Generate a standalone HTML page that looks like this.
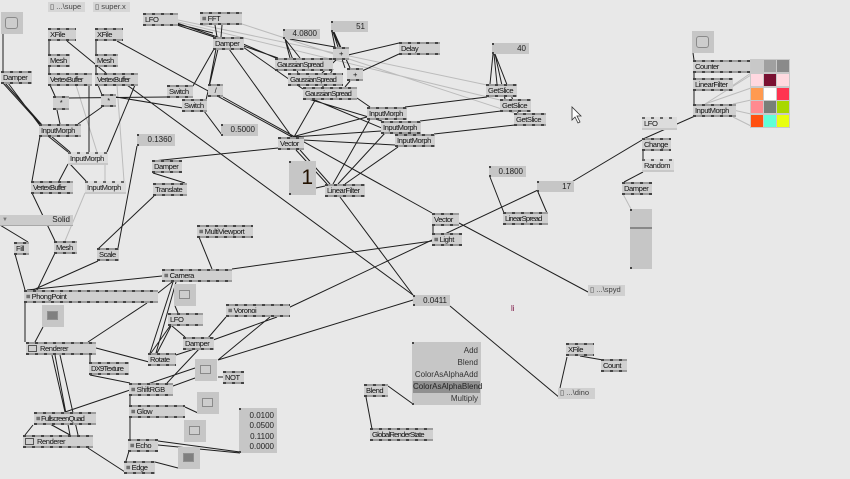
<!DOCTYPE html>
<html><head><meta charset="utf-8">
<style>
html,body{margin:0;padding:0}
body{width:850px;height:479px;background:#e8e8e8;overflow:hidden;position:relative;font-family:"Liberation Sans",sans-serif}
svg.w{position:absolute;left:0;top:0}
.n{position:absolute;box-sizing:border-box;height:13px;padding:2px 0 0 2px;font-size:7.6px;line-height:9px;letter-spacing:-0.45px;color:#111;white-space:nowrap;overflow:hidden;
background-color:#d0d0d0;
background-image:repeating-linear-gradient(90deg,#444 0 3px,#9c9c9c 3px 9px),repeating-linear-gradient(90deg,#444 0 3px,#9c9c9c 3px 9px);
background-size:100% 2px,100% 2px;background-position:0 0,0 100%;background-repeat:no-repeat}
.n.s{letter-spacing:-0.75px}
.n.l{background-color:#dcdcdc;background-image:repeating-linear-gradient(90deg,#666 0 3px,#dcdcdc 3px 9px),linear-gradient(#c8c8c8,#c8c8c8)}
.n.c{text-align:center;padding-left:0}
.v{position:absolute;box-sizing:border-box;height:11px;background-color:#c6c6c6;font-size:8px;line-height:11px;text-align:right;padding-right:3px;color:#222;white-space:nowrap;
background-image:linear-gradient(#444,#444),linear-gradient(#444,#444);background-size:2px 2px,2px 2px;background-position:0 0,0 100%;background-repeat:no-repeat}
.f{position:absolute;box-sizing:border-box;height:10px;background:#d6d6d6;font-size:7.6px;line-height:10px;color:#444;padding-left:2px;white-space:nowrap;overflow:hidden}
.t{position:absolute;width:22px;height:22px;background:#c6c6c6}
.t i{position:absolute;left:5px;top:6px;width:11px;height:9px;border:1px solid #8a8a8a;background:#cdcdcd;box-sizing:border-box}
.t.r i{border-radius:3px;left:4px;top:5px;width:13px;height:12px}
.t.d i{background:#808080;border-color:#909090}
.ic{display:inline-block;width:7px;height:5px;border:1px solid #555;margin-right:3px;vertical-align:-1px}
.cg{position:absolute;left:750px;top:59px;width:40px;height:69px;background:#c9c9c9}
.cg b{position:absolute;width:12px;height:12px}
</style></head><body>
<svg class="w" width="850" height="479" viewBox="0 0 850 479">
<g stroke="#bcbcbc" stroke-width="1" fill="none">
<path d="M178 20L487 85M178 22L500 100M242 24L514 113M76 85L97 152M117 85L124 181M105 164L105 181M85 193L65 241M623 194L631 209M705 104L751 75M705 104L751 88M733 104L751 100M733 110L751 114M733 117L753 127M732 86L751 73"/>
</g>
<g stroke="#1e1e1e" stroke-width="1" fill="none">
<path d="M3 34L3 71M3 83L40 124M5 83L42 125M8 83L41 127M49 41L49 54M49 66L49 73M67 41L106 73M96 41L96 54M96 66L96 73M117 41L292 137M50 85L55 96M89 85L89 152M98 85L102 95M135 85L107 152M127 85L413 295M57 110L60 124M102 107L78 124M68 98L168 97M116 97L183 108"/>
<path d="M177 24L213 33M177 25L214 37M215 25L217 37M222 25L221 37M214 49L193 86M216 49L209 86M218 49L206 100M229 49L292 137M243 47L303 89M243 44L276 58M204 111L222 135M223 97L432 213M177 23L278 58M285 39L290 58M285 39L300 58M285 39L298 73M290 39L335 47M332 32L335 47M333 32L340 47M333 32L345 68M334 32L350 68M348 55L399 43M362 71L399 54M336 60L322 73M350 81L345 87"/>
<path d="M305 98L382 121M357 98L370 107M310 98L396 134M493 54L490 84M494 54L497 84M495 54L505 99M495 54L518 113M487 97L405 107M501 111L420 121M515 125L434 134M292 137L367 117M293 137L381 131M303 140L395 145M333 69L294 137M300 150L330 184M296 150L327 184M370 119L333 184M385 133L338 184M398 147L345 184M316 188L325 186M340 197L413 295"/>
<path d="M278 148L153 161M153 173L185 183M154 196L98 249M137 146L118 248M98 261L33 290M55 253L37 290M15 254L25 290M0 225L28 242M32 193L55 241M68 164L59 181M70 164L86 181M40 136L32 181M48 136L68 152M51 136L70 152"/>
<path d="M199 237L212 269M232 269L432 241M158 293L172 282M162 276L27 290M173 282L150 353M176 282L156 353M147 303L88 342M25 303L25 342M43 327L35 342M175 306L178 313M170 326L151 353M171 326L157 353M172 326L185 337M226 317L208 338M277 317L213 340M270 317L218 360M413 300L218 360M213 343L176 355M200 348L167 383M96 348L149 362M90 355L90 362M90 375L130 383M130 395L130 405M130 417L130 439M185 407L198 413M129 451L126 461M158 441L240 452M158 445L240 453M155 462L178 468M52 355L65 412M55 355L70 435M60 355L78 435M33 425L25 435M50 424L70 435M195 368L65 412M173 386L195 378M88 448L125 472M218 377L223 377"/>
<path d="M433 226L433 233M459 223L588 292M538 190L288 308M490 177L504 213M538 192L547 213M642 140L570 183M643 139L695 116M643 150L643 159M643 172L624 182M693 53L694 60M694 72L694 104M450 306L560 398M567 357L560 388M580 356L603 360M388 386L413 404M366 397L372 429"/>
</g>
<path d="M572 107L572 120L575 117L578 123L580 122L577 116L581 116Z" fill="#fff" stroke="#333" stroke-width="0.8"/>
</svg>

<!-- top-left -->
<div class="f" style="left:48px;top:2px;width:37px">▯ ...\supe</div>
<div class="f" style="left:93px;top:2px;width:37px">▯ super.x</div>
<div class="t r" style="left:1px;top:12px"><i></i></div>
<div class="n" style="left:1px;top:71px;width:31px">Damper</div>
<div class="n" style="left:48px;top:28px;width:28px">XFile</div>
<div class="n" style="left:95px;top:28px;width:28px">XFile</div>
<div class="n" style="left:48px;top:54px;width:22px">Mesh</div>
<div class="n" style="left:95px;top:54px;width:23px">Mesh</div>
<div class="n s" style="left:48px;top:73px;width:44px">VertexBuffer</div>
<div class="n s" style="left:95px;top:73px;width:43px">VertexBuffer</div>
<div class="n c" style="left:53px;top:96px;width:16px;height:14px">*</div>
<div class="n c" style="left:101px;top:94px;width:15px;height:13px">*</div>
<div class="n" style="left:39px;top:124px;width:42px">InputMorph</div>
<div class="n l" style="left:68px;top:152px;width:40px">InputMorph</div>
<div class="n s" style="left:31px;top:181px;width:42px">VertexBuffer</div>
<div class="n l" style="left:85px;top:181px;width:41px">InputMorph</div>

<div class="n" style="left:143px;top:13px;width:35px">LFO</div>
<div class="n" style="left:200px;top:12px;width:42px">≡ FFT</div>
<div class="n" style="left:213px;top:37px;width:31px">Damper</div>
<div class="n" style="left:167px;top:85px;width:26px">Switch</div>
<div class="n" style="left:182px;top:99px;width:25px">Switch</div>
<div class="n c" style="left:208px;top:84px;width:15px">/</div>
<div class="v" style="left:221px;top:124px;width:37px;height:12px">0.5000</div>
<div class="v" style="left:137px;top:134px;width:38px;height:12px">0.1360</div>

<!-- top middle -->
<div class="v" style="left:283px;top:29px;width:37px;height:10px;line-height:10px">4.0800</div>
<div class="v" style="left:331px;top:21px;width:37px">51</div>
<div class="n c" style="left:333px;top:47px;width:16px">+</div>
<div class="n c" style="left:347px;top:68px;width:16px">+</div>
<div class="n" style="left:399px;top:42px;width:41px">Delay</div>
<div class="n s" style="left:275px;top:58px;width:58px">GaussianSpread</div>
<div class="n s" style="left:288px;top:73px;width:55px">GaussianSpread</div>
<div class="n s" style="left:303px;top:87px;width:54px">GaussianSpread</div>
<div class="v" style="left:492px;top:43px;width:37px">40</div>
<div class="n" style="left:486px;top:84px;width:31px">GetSlice</div>
<div class="n" style="left:500px;top:99px;width:31px">GetSlice</div>
<div class="n" style="left:514px;top:113px;width:32px">GetSlice</div>
<div class="n" style="left:367px;top:107px;width:40px">InputMorph</div>
<div class="n" style="left:381px;top:121px;width:40px">InputMorph</div>
<div class="n" style="left:395px;top:134px;width:40px">InputMorph</div>
<div class="n" style="left:278px;top:137px;width:26px">Vector</div>

<!-- top right -->
<div class="t r" style="left:692px;top:31px"><i></i></div>
<div class="n" style="left:693px;top:60px;width:57px">Counter</div>
<div class="n" style="left:693px;top:78px;width:40px">LinearFilter</div>
<div class="n" style="left:693px;top:104px;width:43px">InputMorph</div>
<div class="cg">
<b style="left:1px;top:1px;background:#c8c8c8"></b><b style="left:14px;top:1px;background:#a0a0a0"></b><b style="left:27px;top:1px;background:#8a8a8a"></b>
<b style="left:1px;top:15px;background:#ffd8e0"></b><b style="left:14px;top:15px;background:#7a1032"></b><b style="left:27px;top:15px;background:#ffdae0"></b>
<b style="left:1px;top:29px;background:#ff9a50"></b><b style="left:14px;top:29px;background:#ffffff"></b><b style="left:27px;top:29px;background:#ff3450"></b>
<b style="left:1px;top:42px;background:#ff8a90"></b><b style="left:14px;top:42px;background:#787f78"></b><b style="left:27px;top:42px;background:#a8d800"></b>
<b style="left:1px;top:56px;background:#ff5010"></b><b style="left:14px;top:56px;background:#60ffd8"></b><b style="left:27px;top:56px;background:#e8ff10"></b>
</div>
<div class="n l" style="left:642px;top:117px;width:35px">LFO</div>
<div class="n" style="left:642px;top:138px;width:29px">Change</div>
<div class="n l" style="left:642px;top:159px;width:32px">Random</div>
<div class="n" style="left:622px;top:182px;width:30px">Damper</div>
<div class="v" style="left:630px;top:209px;width:22px;height:60px"><div style="position:absolute;left:0;right:0;top:18px;height:2px;background:#888"></div></div>
<div class="f" style="left:588px;top:285px;width:37px;height:11px;background:#d0d0d0">▯ ...\spyd</div>

<!-- middle -->
<div class="v" style="left:289px;top:161px;width:27px;height:34px;font-size:21px;line-height:34px;color:#221100">1</div>
<div class="n" style="left:325px;top:184px;width:40px">LinearFilter</div>
<div class="v" style="left:489px;top:166px;width:37px">0.1800</div>
<div class="v" style="left:537px;top:181px;width:37px">17</div>
<div class="n" style="left:432px;top:213px;width:27px">Vector</div>
<div class="n" style="left:432px;top:233px;width:30px">≡ Light</div>
<div class="n s" style="left:503px;top:212px;width:45px">LinearSpread</div>
<div class="v" style="left:413px;top:295px;width:37px">0.0411</div>
<div style="position:absolute;left:511px;top:304px;font-size:8px;color:#7a1040">li</div>

<div class="n" style="left:152px;top:160px;width:30px">Damper</div>
<div class="n" style="left:153px;top:183px;width:34px">Translate</div>
<div style="position:absolute;left:0;top:215px;width:73px;height:11px;background:#cbcbcb;border-bottom:1px solid #a8a8a8;box-sizing:border-box;font-size:8px;line-height:10px;color:#222"><span style="color:#777;font-size:6px;position:absolute;left:2px">▼</span><span style="position:absolute;right:3px">Solid</span></div>
<div class="n" style="left:14px;top:242px;width:15px">Fill</div>
<div class="n" style="left:54px;top:241px;width:23px">Mesh</div>
<div class="n" style="left:97px;top:248px;width:22px">Scale</div>
<div class="n" style="left:197px;top:225px;width:56px">≡ MultiViewport</div>
<div class="n" style="left:162px;top:269px;width:70px">≡ Camera</div>
<div class="n" style="left:24px;top:290px;width:134px">≡ PhongPoint</div>
<div class="t" style="left:174px;top:284px"><i></i></div>
<div class="t d" style="left:42px;top:305px"><i></i></div>
<div class="n" style="left:226px;top:304px;width:64px">≡ Voronoi</div>
<div class="n" style="left:168px;top:313px;width:35px">LFO</div>

<!-- bottom left -->
<div class="n" style="left:26px;top:342px;width:70px"><span class="ic"></span>Renderer</div>
<div class="n s" style="left:89px;top:362px;width:40px">DX9Texture</div>
<div class="n" style="left:183px;top:337px;width:31px">Damper</div>
<div class="n" style="left:148px;top:353px;width:28px">Rotate</div>
<div class="t" style="left:195px;top:359px"><i></i></div>
<div class="n" style="left:223px;top:371px;width:21px">NOT</div>
<div class="n" style="left:129px;top:383px;width:44px">≡ ShiftRGB</div>
<div class="t" style="left:197px;top:392px"><i></i></div>
<div class="n" style="left:129px;top:405px;width:56px">≡ Glow</div>
<div class="t" style="left:184px;top:420px"><i></i></div>
<div class="n s" style="left:34px;top:412px;width:62px">≡ FullscreenQuad</div>
<div class="n" style="left:23px;top:435px;width:70px"><span class="ic"></span>Renderer</div>
<div class="n" style="left:128px;top:439px;width:30px">≡ Echo</div>
<div class="n" style="left:124px;top:461px;width:31px">≡ Edge</div>
<div class="t d" style="left:178px;top:447px"><i></i></div>
<div class="v" style="left:239px;top:408px;width:38px;height:45px;line-height:10.4px;padding-top:3px">0.0100<br>0.0500<br>0.1100<br>0.0000</div>

<!-- bottom middle/right -->
<div class="v" style="left:412px;top:342px;width:69px;height:63px;line-height:12px;padding:3px 0 0 0;color:#333">
<div style="padding-right:3px">Add</div>
<div style="padding-right:3px">Blend</div>
<div style="padding-right:3px">ColorAsAlphaAdd</div>
<div style="padding-right:3px;background:#909090;margin-left:1px;margin-right:1px;color:#222">ColorAsAlphaBlend</div>
<div style="padding-right:3px">Multiply</div>
</div>
<div class="n" style="left:364px;top:384px;width:24px">Blend</div>
<div class="n s" style="left:370px;top:428px;width:63px">GlobalRenderState</div>
<div class="n" style="left:566px;top:343px;width:28px">XFile</div>
<div class="n" style="left:601px;top:359px;width:26px">Count</div>
<div class="f" style="left:558px;top:388px;width:37px;height:11px;background:#d0d0d0">▯ ...\dino</div>
</body></html>
